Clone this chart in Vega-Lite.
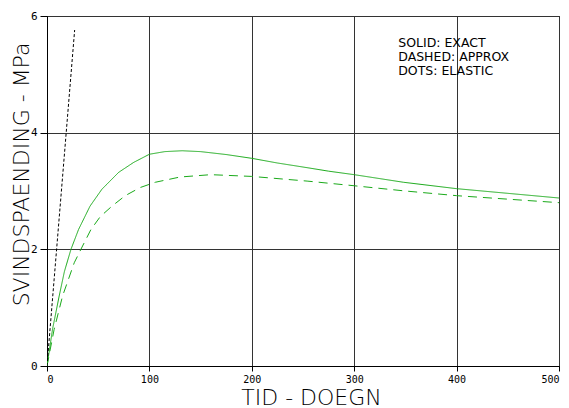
{
  "$schema": "https://vega.github.io/schema/vega-lite/v6.json",
  "width": 512,
  "height": 350,
  "autosize": "none",
  "padding": {"left": 47, "top": 16, "right": 10, "bottom": 42},
  "background": "white",
  "config": {
    "view": {"stroke": "black", "strokeWidth": 1},
    "font": "DejaVu Sans"
  },
  "datasets": {
    "curves": [
      {"series": "exact", "t": 0, "s": 0},
      {"series": "exact", "t": 5.4, "s": 0.63},
      {"series": "exact", "t": 11.9, "s": 1.2},
      {"series": "exact", "t": 17, "s": 1.62},
      {"series": "exact", "t": 23.4, "s": 2.0},
      {"series": "exact", "t": 30.8, "s": 2.34},
      {"series": "exact", "t": 42, "s": 2.74},
      {"series": "exact", "t": 53.6, "s": 3.03},
      {"series": "exact", "t": 70, "s": 3.32},
      {"series": "exact", "t": 84.6, "s": 3.49},
      {"series": "exact", "t": 100, "s": 3.63},
      {"series": "exact", "t": 115, "s": 3.675},
      {"series": "exact", "t": 132, "s": 3.69},
      {"series": "exact", "t": 150, "s": 3.675},
      {"series": "exact", "t": 175, "s": 3.625},
      {"series": "exact", "t": 200, "s": 3.56},
      {"series": "exact", "t": 225, "s": 3.48},
      {"series": "exact", "t": 254, "s": 3.40},
      {"series": "exact", "t": 275, "s": 3.34},
      {"series": "exact", "t": 300, "s": 3.28},
      {"series": "exact", "t": 348, "s": 3.15},
      {"series": "exact", "t": 400, "s": 3.04},
      {"series": "exact", "t": 450, "s": 2.96},
      {"series": "exact", "t": 500, "s": 2.88},
      {"series": "approx", "t": 0, "s": 0},
      {"series": "approx", "t": 7, "s": 0.63},
      {"series": "approx", "t": 15.2, "s": 1.2},
      {"series": "approx", "t": 26.6, "s": 1.77},
      {"series": "approx", "t": 33.1, "s": 2.0},
      {"series": "approx", "t": 42.9, "s": 2.34},
      {"series": "approx", "t": 52, "s": 2.56},
      {"series": "approx", "t": 63.4, "s": 2.74},
      {"series": "approx", "t": 76.4, "s": 2.92},
      {"series": "approx", "t": 91.1, "s": 3.06},
      {"series": "approx", "t": 105.8, "s": 3.15},
      {"series": "approx", "t": 130, "s": 3.24},
      {"series": "approx", "t": 160, "s": 3.28},
      {"series": "approx", "t": 200, "s": 3.25},
      {"series": "approx", "t": 254, "s": 3.17},
      {"series": "approx", "t": 300, "s": 3.09},
      {"series": "approx", "t": 350, "s": 3.0},
      {"series": "approx", "t": 400, "s": 2.92},
      {"series": "approx", "t": 450, "s": 2.86},
      {"series": "approx", "t": 500, "s": 2.8},
      {"series": "elastic", "t": 0, "s": 0},
      {"series": "elastic", "t": 27, "s": 5.76}
    ],
    "notes": [
      {"t": 343, "s": 5.54, "label": "SOLID: EXACT"},
      {"t": 343, "s": 5.30, "label": "DASHED: APPROX"},
      {"t": 343, "s": 5.06, "label": "DOTS: ELASTIC"}
    ]
  },
  "layer": [
    {
      "data": {"name": "curves"},
      "mark": {"type": "line", "strokeWidth": 1, "clip": true},
      "encoding": {
        "x": {
          "field": "t", "type": "quantitative",
          "scale": {"domain": [0, 500], "nice": false, "zero": false},
          "axis": {
            "values": [0, 100, 200, 300, 400, 500], "format": "d",
            "grid": true, "gridColor": "#333", "gridWidth": 1, "gridOpacity": 1,
            "domainColor": "black", "tickColor": "black", "tickSize": 5,
            "labelFont": "DejaVu Sans Mono", "labelFontSize": 10, "labelColor": "black", "labelPadding": 3,
            "title": "TID - DOEGN", "titleFontSize": 22, "titleFontWeight": 200, "titleColor": "black",
            "titleX": 264, "titleY": 38, "titleAlign": "center", "titleBaseline": "alphabetic"
          }
        },
        "y": {
          "field": "s", "type": "quantitative",
          "scale": {"domain": [0, 6], "nice": false},
          "axis": {
            "values": [0, 2, 4, 6], "format": "d",
            "grid": true, "gridColor": "#333", "gridWidth": 1, "gridOpacity": 1,
            "domainColor": "black", "tickColor": "black", "tickSize": 7,
            "labelFont": "DejaVu Sans Mono", "labelFontSize": 11, "labelColor": "black", "labelPadding": 3,
            "title": "SVINDSPAENDING - MPa", "titleFontSize": 22, "titleFontWeight": 200, "titleColor": "black",
            "titleAngle": 270, "titleX": -26, "titleY": 158, "titleAlign": "center", "titleBaseline": "middle"
          }
        },
        "color": {
          "field": "series", "type": "nominal",
          "scale": {"domain": ["exact", "approx", "elastic"], "range": ["#1aaa1a", "#1aaa1a", "black"]},
          "legend": null
        },
        "strokeDash": {
          "field": "series", "type": "nominal",
          "scale": {"domain": ["exact", "approx", "elastic"], "range": [[1, 0], [9, 6], [3, 2]]},
          "legend": null
        }
      }
    },
    {
      "data": {"name": "notes"},
      "mark": {"type": "text", "align": "left", "baseline": "middle", "fontSize": 12.5, "font": "DejaVu Sans", "color": "black"},
      "encoding": {
        "x": {"field": "t", "type": "quantitative"},
        "y": {"field": "s", "type": "quantitative"},
        "text": {"field": "label"}
      }
    }
  ]
}
